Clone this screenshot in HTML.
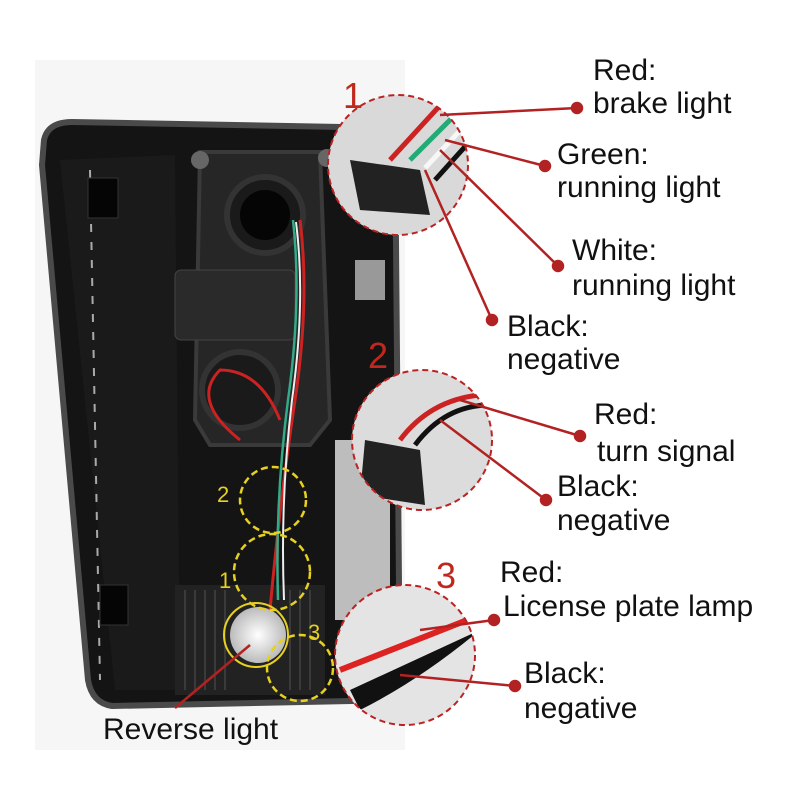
<!DOCTYPE html>
<html><head><meta charset="utf-8"><style>
body{margin:0;background:#fff;width:800px;height:800px;overflow:hidden;font-family:"Liberation Sans",sans-serif}
</style></head><body>
<svg width="800" height="800" viewBox="0 0 800 800" xmlns="http://www.w3.org/2000/svg">
<defs>
<clipPath id="c1"><circle cx="398" cy="165" r="70"/></clipPath>
<clipPath id="c2"><circle cx="422" cy="440" r="70"/></clipPath>
<clipPath id="c3"><circle cx="405" cy="655" r="70"/></clipPath>
<radialGradient id="bulb"><stop offset="0" stop-color="#fff"/><stop offset="1" stop-color="#bbb"/></radialGradient>
</defs>
<rect x="35" y="60" width="370" height="690" fill="#f6f6f6"/>
<!-- housing -->
<path d="M44 140 Q48 122 72 122 L395 128 L400 700 L112 706 Q92 703 88 680 L42 165 Z" fill="#141414" stroke="#4a4a4a" stroke-width="6"/>
<path d="M60 160 L175 155 L180 690 L115 690 Z" fill="#1a1a1a"/>
<path d="M90 170 L100 680" stroke="#aaa" stroke-width="2" stroke-dasharray="8,10"/>
<rect x="88" y="178" width="30" height="40" fill="#050505" stroke="#333"/>
<rect x="100" y="585" width="28" height="40" fill="#050505" stroke="#333"/>
<path d="M200 152 L320 152 L330 420 L310 445 L210 445 L195 420 Z" fill="#262626" stroke="#3a3a3a" stroke-width="4"/>
<circle cx="200" cy="160" r="9" fill="#666"/><circle cx="327" cy="158" r="9" fill="#666"/>
<rect x="175" y="270" width="120" height="70" rx="6" fill="#2a2a2a" stroke="#444"/>
<circle cx="265" cy="215" r="38" fill="#1a1a1a" stroke="#333" stroke-width="6"/>
<circle cx="265" cy="215" r="25" fill="#050505"/>
<circle cx="240" cy="390" r="38" fill="#1a1a1a" stroke="#333" stroke-width="6"/>
<rect x="355" y="260" width="30" height="40" fill="#999"/>
<rect x="335" y="440" width="55" height="180" fill="#bdbdbd"/>
<rect x="175" y="585" width="150" height="110" fill="#222"/>
<g stroke="#3a3a3a" stroke-width="2"><line x1="185" y1="590" x2="185" y2="690"/><line x1="195" y1="590" x2="195" y2="690"/><line x1="205" y1="590" x2="205" y2="690"/><line x1="215" y1="590" x2="215" y2="690"/><line x1="225" y1="590" x2="225" y2="690"/><line x1="290" y1="590" x2="290" y2="690"/><line x1="300" y1="590" x2="300" y2="690"/><line x1="310" y1="590" x2="310" y2="690"/></g>
<circle cx="258" cy="635" r="28" fill="url(#bulb)"/>
<path d="M300 220 Q310 300 295 400 Q280 500 270 610" fill="none" stroke="#c22" stroke-width="3"/>
<path d="M293 220 Q302 300 288 400 Q275 500 278 600" fill="none" stroke="#3a8" stroke-width="2.5"/>
<path d="M296 222 Q306 300 292 400 Q280 500 284 600" fill="none" stroke="#eee" stroke-width="2"/>
<path d="M240 440 Q190 400 220 370 Q260 370 280 420" fill="none" stroke="#c22" stroke-width="3"/>
<!-- yellow dashed -->
<g fill="none" stroke="#e6d020" stroke-width="2.5" stroke-dasharray="7,4">
<circle cx="273" cy="500" r="33"/><circle cx="272" cy="572" r="38"/><circle cx="300" cy="668" r="33"/>
</g>
<circle cx="256" cy="635" r="32" fill="none" stroke="#e6d020" stroke-width="2"/>
<g fill="#e6d020" font-size="22"><text x="217" y="502">2</text><text x="219" y="588">1</text><text x="308" y="640">3</text></g>
<!-- magnified circles -->
<g clip-path="url(#c1)"><rect x="320" y="90" width="160" height="150" fill="#d9d9d9"/>
<path d="M350 160 L420 170 L430 215 L360 210 Z" fill="#222"/>
<path d="M390 160 L445 100" stroke="#c22" stroke-width="5"/><path d="M410 160 L460 110" stroke="#2a7" stroke-width="5"/><path d="M425 168 L470 120" stroke="#f7f7f7" stroke-width="5"/><path d="M435 180 L480 130" stroke="#111" stroke-width="5"/></g>
<g clip-path="url(#c2)"><rect x="345" y="365" width="160" height="150" fill="#dcdcdc"/>
<path d="M365 440 L420 450 L425 505 L360 495 Z" fill="#222"/>
<path d="M400 440 Q430 400 480 395" fill="none" stroke="#c22" stroke-width="5"/><path d="M415 445 Q445 405 490 405" fill="none" stroke="#111" stroke-width="5"/></g>
<g clip-path="url(#c3)"><rect x="330" y="580" width="160" height="150" fill="#e4e4e4"/>
<path d="M340 670 L480 615" stroke="#d22" stroke-width="6"/><path d="M350 690 L480 630 Q420 680 360 710 Z" fill="#111"/></g>
<g fill="none" stroke="#b22" stroke-width="2" stroke-dasharray="6,4">
<circle cx="398" cy="165" r="70"/><circle cx="422" cy="440" r="70"/><circle cx="405" cy="655" r="70"/></g>
<!-- leader lines -->
<g stroke="#b22222" stroke-width="2.5" fill="#b22222">
<line x1="440" y1="115" x2="577" y2="108"/><circle cx="577" cy="108" r="5"/>
<line x1="445" y1="140" x2="545" y2="166"/><circle cx="545" cy="166" r="5"/>
<line x1="440" y1="150" x2="558" y2="266"/><circle cx="558" cy="266" r="5"/>
<line x1="425" y1="170" x2="492" y2="320"/><circle cx="492" cy="320" r="5"/>
<line x1="460" y1="400" x2="580" y2="436"/><circle cx="580" cy="436" r="5"/>
<line x1="440" y1="420" x2="546" y2="500"/><circle cx="546" cy="500" r="5"/>
<line x1="420" y1="630" x2="494" y2="620"/><circle cx="494" cy="620" r="5"/>
<line x1="400" y1="675" x2="515" y2="686"/><circle cx="515" cy="686" r="5"/>
<line x1="250" y1="645" x2="175" y2="708"/>
</g>
<g fill="#c0281e" font-size="36"><text x="343" y="108">1</text><text x="368" y="368">2</text><text x="436" y="588">3</text></g>
<g fill="#111" font-size="30">
<text x="593" y="80">Red:</text><text x="593" y="113">brake light</text>
<text x="557" y="164">Green:</text><text x="557" y="197">running light</text>
<text x="572" y="260">White:</text><text x="572" y="295">running light</text>
<text x="507" y="336">Black:</text><text x="507" y="369">negative</text>
<text x="594" y="424">Red:</text><text x="597" y="461">turn signal</text>
<text x="557" y="496">Black:</text><text x="557" y="530">negative</text>
<text x="500" y="582">Red:</text><text x="503" y="616">License plate lamp</text>
<text x="524" y="683">Black:</text><text x="524" y="718">negative</text>
<text x="103" y="739">Reverse light</text>
</g>
</svg>
</body></html>
